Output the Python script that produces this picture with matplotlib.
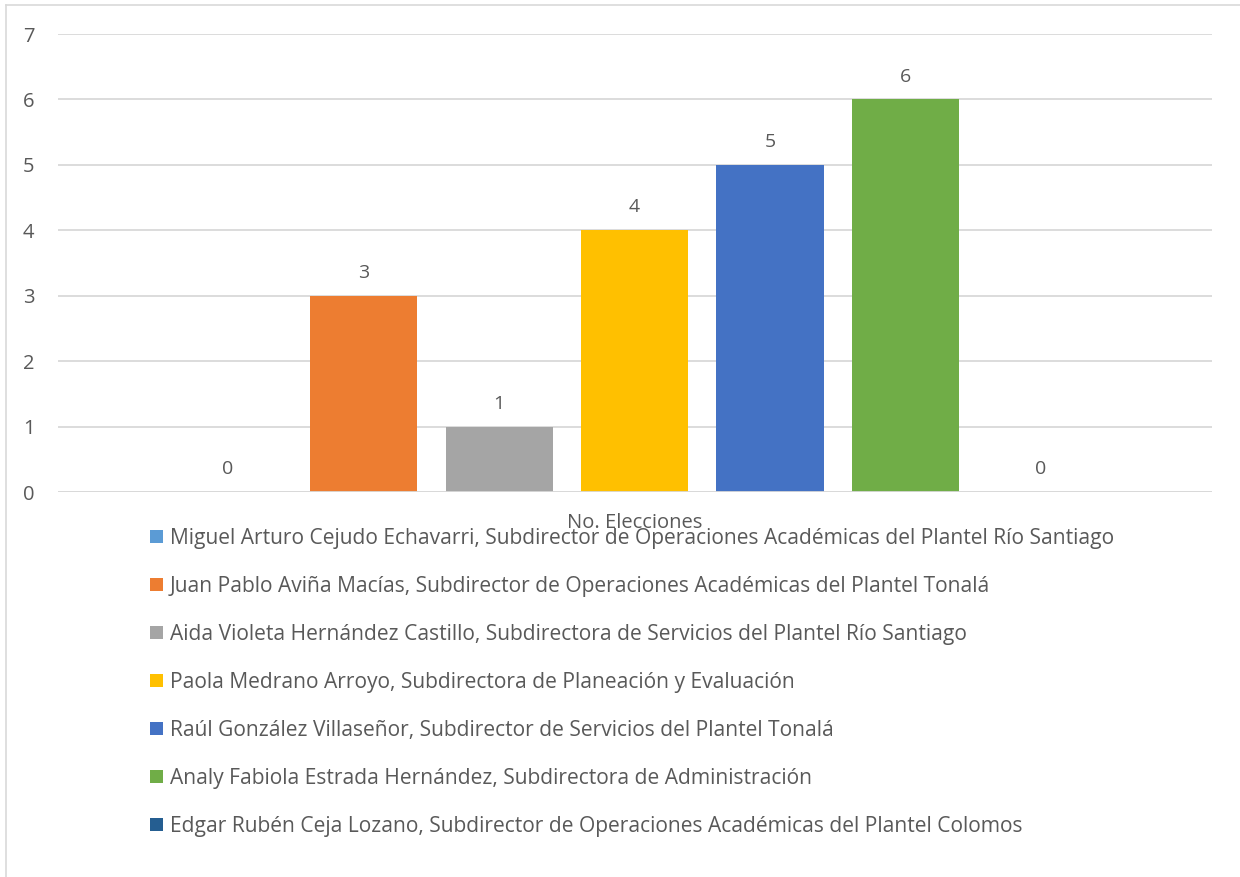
import matplotlib
matplotlib.use("Agg")
import matplotlib.pyplot as plt
from matplotlib.patches import Patch
from matplotlib.lines import Line2D

plt.rcParams['font.family'] = ['Open Sans', 'DejaVu Sans']

# ---- data ----
nombres = [
    "Miguel Arturo Cejudo Echavarri, Subdirector de Operaciones Académicas del Plantel Río Santiago",
    "Juan Pablo Aviña Macías, Subdirector de Operaciones Académicas del Plantel Tonalá",
    "Aida Violeta Hernández Castillo, Subdirectora de Servicios del Plantel Río Santiago",
    "Paola Medrano Arroyo, Subdirectora de Planeación y Evaluación",
    "Raúl González Villaseñor, Subdirector de Servicios del Plantel Tonalá",
    "Analy Fabiola Estrada Hernández, Subdirectora de Administración",
    "Edgar Rubén Ceja Lozano, Subdirector de Operaciones Académicas del Plantel Colomos",
]
elecciones = [0, 3, 1, 4, 5, 6, 0]
categoria = "No. Elecciones"
colores = ["#5B9BD5", "#ED7D31", "#A5A5A5", "#FFC000", "#4472C4", "#70AD47", "#255E91"]

txt = "#595959"
W, H = 1240, 877
fig = plt.figure(figsize=(W / 100, H / 100), dpi=100)
ax = fig.add_axes([58 / W, 1 - 492 / H, (1212 - 58) / W, (492 - 34) / H])

xs = list(range(len(elecciones)))
ax.bar(xs, elecciones, width=0.79, color=colores, zorder=3)
for x, v in zip(xs, elecciones):
    ax.annotate(str(v), (x, v), xytext=(0, 10), textcoords="offset points",
                ha="center", va="bottom", fontsize=14, color=txt)

ax.set_xlim(-1.255, 7.262)
ax.set_ylim(0, 7)
ax.set_yticks(range(0, 8))
ax.set_xticks([3])
ax.set_xticklabels([categoria])
ax.tick_params(axis="x", length=0, pad=15, labelsize=14.5, labelcolor=txt)
ax.tick_params(axis="y", length=0, pad=17, labelsize=14.5, labelcolor=txt)
ax.grid(axis="y", color="#D9D9D9", lw=1.3, zorder=0)
for s in ax.spines.values():
    s.set_visible(False)
ax.axhline(0, color="#D9D9D9", lw=1.3, zorder=4)

handles = [Patch(facecolor=c, edgecolor="none") for c in colores]
fig.legend(handles, nombres, loc="upper left", bbox_to_anchor=(150 / W, 1 - 528 / H),
           frameon=False, fontsize=15.1, labelcolor=txt, labelspacing=1.285,
           handlelength=0.62, handleheight=0.62, handletextpad=0.33, borderpad=0, borderaxespad=0)

# light border of the chart area
fig.add_artist(Line2D([6 / W, 6 / W], [0, 1 - 5 / H], color="#D9D9D9", lw=1.2))
fig.add_artist(Line2D([6 / W, 1], [1 - 5 / H, 1 - 5 / H], color="#D9D9D9", lw=1.2))

fig.savefig("out.png", dpi=100)
